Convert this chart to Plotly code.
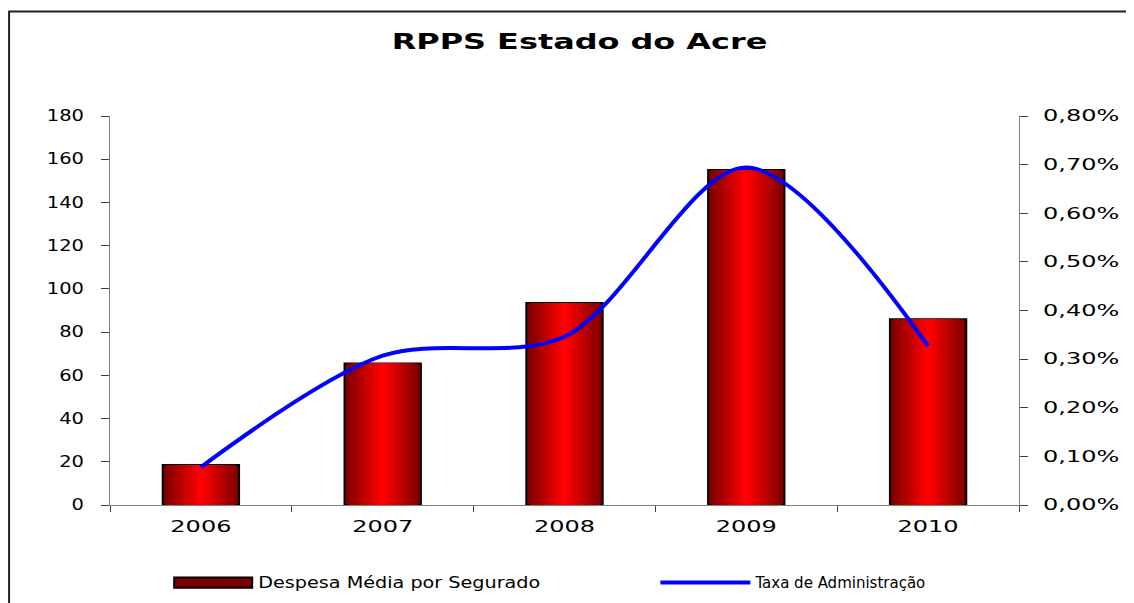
import plotly.graph_objects as go

# Данные
anos = ['2006', '2007', '2008', '2009', '2010']
despesa_media = [18.5, 65.5, 93.5, 155, 86]
taxa_adm = [0.00078, 0.00307, 0.00346, 0.00694, 0.00327]

fig = go.Figure()

# Столбцы с градиентом: несколько наложенных столбцов разной ширины
n_layers = 14
bar_width = 0.42
for i in range(n_layers):
    t = i / (n_layers - 1)
    r = int(125 + (255 - 125) * t)
    w = bar_width * (1 - i / n_layers)
    fig.add_trace(go.Bar(
        x=anos, y=despesa_media,
        width=w,
        name='Despesa Média por Segurado',
        marker=dict(color='rgb(%d,0,0)' % r,
                    line=dict(color='black', width=2 if i == 0 else 0)),
        showlegend=(i == 0),
        legend='legend',
        hoverinfo='skip' if i else None,
    ))

# Линия на второй оси
fig.add_trace(go.Scatter(
    x=anos, y=taxa_adm, yaxis='y2',
    mode='lines', line=dict(color='#0000FF', width=4, shape='spline', smoothing=0.9),
    name='Taxa de Administração',
    legend='legend2',
))

axis_font = dict(family='DejaVu Sans', size=15, color='black')
legend_font = dict(family='DejaVu Sans', size=15, color='black')

# страница смещена на 8px (отступ body), поэтому поля уменьшены
fig.update_layout(
    width=1134, height=603,
    barmode='overlay',
    separators=',.',
    paper_bgcolor='white',
    plot_bgcolor='white',
    margin=dict(l=102, r=123, t=108, b=104),
    title=dict(text='<b>RPPS Estado do Acre</b>', x=0.504, y=0.944,
               xanchor='center', yanchor='middle',
               font=dict(family='DejaVu Sans', size=22, color='black')),
    xaxis=dict(
        type='category', range=[-0.5, 4.5],
        showline=True, linecolor='#808080', linewidth=1,
        ticks='outside', ticklen=6, tickcolor='#404040',
        tickson='boundaries', showgrid=False,
        tickfont=axis_font, ticklabelstandoff=8,
    ),
    yaxis=dict(
        range=[0, 180], dtick=20,
        showline=True, linecolor='#808080', linewidth=1,
        ticks='outside', ticklen=8, tickcolor='#404040',
        showgrid=False, zeroline=False,
        tickfont=axis_font, ticklabelstandoff=14,
    ),
    yaxis2=dict(
        range=[0, 0.008], dtick=0.001, overlaying='y', side='right',
        tickformat='.2%',
        showline=True, linecolor='#808080', linewidth=1,
        ticks='outside', ticklen=8, tickcolor='#404040',
        showgrid=False, zeroline=False,
        tickfont=axis_font, ticklabelstandoff=12,
    ),
    legend=dict(x=0.064, y=-0.2, xanchor='left', yanchor='middle',
                font=legend_font, itemwidth=80, bgcolor='rgba(0,0,0,0)'),
    legend2=dict(x=0.6, y=-0.2, xanchor='left', yanchor='middle',
                 font=legend_font, itemwidth=90, bgcolor='rgba(0,0,0,0)'),
    shapes=[dict(type='rect', xref='paper', yref='paper',
                 x0=-0.111, x1=1.2, y0=-0.5, y1=1.2685,
                 line=dict(color='#202020', width=2))],
)

# растянутый шрифт как в исходной картинке + широкий значок столбца в легенде
js = """
var gd = document.getElementById('{plot_id}');
function stretchEl(e, k) {
  if (!e.dataset.w) {
    var w = e.getComputedTextLength();
    if (!(w > 0)) return;
    e.dataset.w = w;
  }
  e.setAttribute('textLength', parseFloat(e.dataset.w) * k);
  e.setAttribute('lengthAdjust', 'spacingAndGlyphs');
}
function stretch(sel, k) {
  gd.querySelectorAll(sel).forEach(function(e) { stretchEl(e, k); });
}
function fixText() {
  stretch('.gtitle', 1.45);
  stretch('.xtick text', 1.6);
  stretch('.ytick text', 1.3);
  stretch('.y2tick text', 1.6);
  gd.querySelectorAll('.legendtext').forEach(function(e) {
    stretchEl(e, e.textContent.indexOf('Taxa') == 0 ? 1.45 : 1.28);
  });
  gd.querySelectorAll('.scrollbox').forEach(function(s){ s.removeAttribute('clip-path'); });
  var p = gd.querySelector('.legendpoints path');
  if (p && !p.dataset.done) {
    var tr = p.getAttribute('transform') || '';
    p.setAttribute('transform', tr + ' scale(6.5,0.85)');
    p.style.vectorEffect = 'non-scaling-stroke';
    p.dataset.done = '1';
  }
}
fixText();
setTimeout(fixText, 50);
setTimeout(fixText, 300);
gd.on('plotly_afterplot', fixText);
"""

fig.write_html('out.html', post_script=js)
